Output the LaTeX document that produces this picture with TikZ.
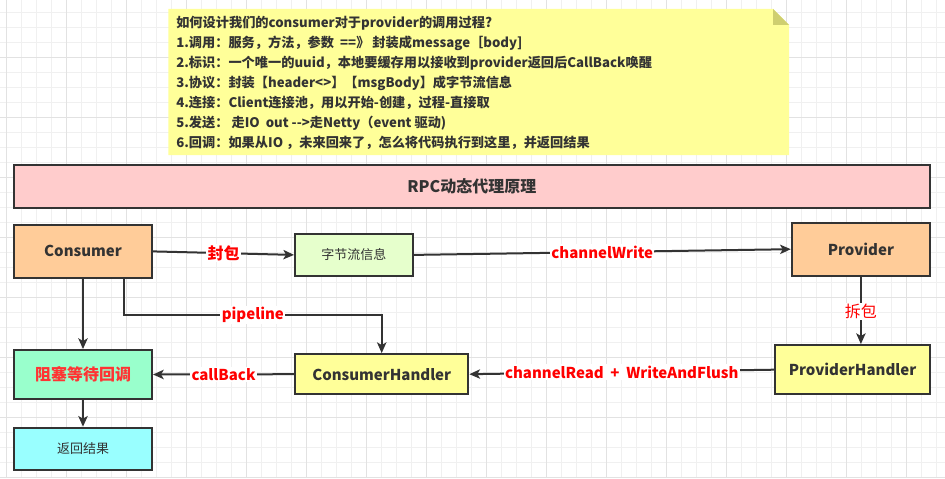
\documentclass[tikz,border=0pt]{standalone}
\usepackage{fontspec}
\setmainfont{Noto Sans CJK SC}
\usetikzlibrary{arrows.meta}
\definecolor{ln}{HTML}{333333}
\definecolor{gmin}{HTML}{F0F0F0}
\definecolor{gmaj}{HTML}{E2E2E2}
\definecolor{notey}{HTML}{FFFF99}
\definecolor{foldc}{HTML}{CFCF70}
\definecolor{pinkc}{HTML}{FFCCCC}
\definecolor{orangec}{HTML}{FFCC99}
\definecolor{greenc}{HTML}{E6FFCC}
\definecolor{yellowc}{HTML}{FFFF99}
\definecolor{mintc}{HTML}{99FFCC}
\definecolor{cyanc}{HTML}{99FFFF}
\definecolor{redc}{HTML}{FF0000}
\definecolor{lred}{HTML}{FF3333}
\begin{document}
\begin{tikzpicture}[x=0.75pt,y=-0.75pt,
  box/.style={draw=ln, line width=1.5pt, text=ln, inner sep=0pt},
  conn/.style={draw=ln, line width=1.5pt, -{Stealth[length=8pt,width=7pt,inset=2pt]}},
  lbl/.style={fill=white, text=redc, font=\bfseries\fontsize{11.25pt}{13pt}\selectfont, inner sep=1pt},
  notetxt/.style={anchor=west, text=ln, font=\bfseries\fontsize{9.9pt}{12pt}\selectfont, inner sep=0pt},
  big/.style={font=\bfseries\fontsize{11.25pt}{13pt}\selectfont},
  small/.style={font=\fontsize{9.75pt}{12pt}\selectfont}]
\useasboundingbox (0,0) rectangle (945,478);
\fill[white] (0,0) rectangle (945,478);
% grid
\foreach \i in {0,...,62} { \draw[gmin, line width=0.75pt] ({6.3+15*\i},0) -- ({6.3+15*\i},478); }
\foreach \i in {0,...,31} { \draw[gmin, line width=0.75pt] (0,{12.3+15*\i}) -- (945,{12.3+15*\i}); }
\foreach \i in {0,...,15} { \draw[gmaj, line width=0.75pt] ({6.3+60*\i},0) -- ({6.3+60*\i},478); }
\foreach \i in {0,...,7} { \draw[gmaj, line width=0.75pt] (0,{57.3+60*\i}) -- (945,{57.3+60*\i}); }
% note
\fill[notey] (168.3,9) -- (773,9) -- (789,25) -- (789,155) -- (168.3,155) -- cycle;
\fill[foldc] (773,9) -- (789,25) -- (773,25) -- cycle;
\node[notetxt] (n0) at (176,23.3) {如何设计我们的consumer对于provider的调用过程?};
\node[notetxt] (n1) at (176,43.3) {1.调用：服务，方法，参数 ~==》 封装成message［body]};
\node[notetxt] (n2) at (176,63.3) {2.标识：一个唯一的uuid，本地要缓存用以接收到provider返回后CallBack唤醒};
\node[notetxt] (n3) at (176,83.3) {3.协议：封装【header<>】【msgBody】成字节流信息};
\node[notetxt] (n4) at (176,103.3) {4.连接：Client连接池，用以开始-创建，过程-直接取};
\node[notetxt] (n5) at (176,123.3) {5.发送：~走IO~ out -{}-{}>走Netty（event 驱动)};
\node[notetxt] (n6) at (176,143.3) {6.回调：如果从IO ，未来回来了，怎么将代码执行到这里，并返回结果};
% title
\node[box, fill=pinkc, minimum width=687.4pt, minimum height=32.25pt, font=\bfseries\fontsize{12pt}{14pt}\selectfont] (title) at (471.8,186.8) {RPC动态代理原理};
% nodes
\node[box, fill=orangec, minimum width=103.5pt, minimum height=39.5pt, big] (consumer) at (83,251.4) {Consumer};
\node[box, fill=greenc, minimum width=88.3pt, minimum height=31.3pt, small] (bytes) at (353.9,254.9) {字节流信息};
\node[box, fill=orangec, minimum width=103.7pt, minimum height=39.75pt, big] (provider) at (860.9,249.2) {Provider};
\node[box, fill=yellowc, minimum width=116.25pt, minimum height=37pt, big] (ph) at (852.5,369.7) {ProviderHandler};
\node[box, fill=yellowc, minimum width=130pt, minimum height=30.2pt, big] (ch) at (381.7,374.2) {ConsumerHandler};
\node[box, fill=mintc, minimum width=103.5pt, minimum height=36.75pt, text=lred, font=\bfseries\fontsize{12pt}{14pt}\selectfont] (block) at (83,374.5) {阻塞等待回调};
\node[box, fill=cyanc, minimum width=103.5pt, minimum height=31.5pt, small] (ret) at (83,448.7) {返回结果};
% connectors
\draw[conn] (consumer.east) -- node[lbl, font=\bfseries\fontsize{12pt}{14pt}\selectfont] (l1) {封包} (bytes.west);
\draw[conn] (bytes.east) -- node[lbl] (l2) {channelWrite} (provider.west);
\draw[conn] (provider.south) -- node[lbl, font=\fontsize{12pt}{14pt}\selectfont, pos=0.52] (l3) {拆包} (provider.south |- ph.north);
\draw[conn] (ph.west) -- node[lbl] (l4) {channelRead\hspace{5pt}+\hspace{5pt}WriteAndFlush} (ch.east);
\draw[conn] (ch.west) -- node[lbl] (l5) {callBack} (block.east);
\draw[conn] (consumer.south) -- (block.north);
\coordinate (p1) at (124,315);
\coordinate (p2) at (ch.north |- p1);
\draw[conn] (consumer.south -| p1) -- (p1) -- node[lbl] (l6) {pipeline} (p2) -- (ch.north);
\draw[conn] (block.south) -- (ret.north);
\end{tikzpicture}
\end{document}
